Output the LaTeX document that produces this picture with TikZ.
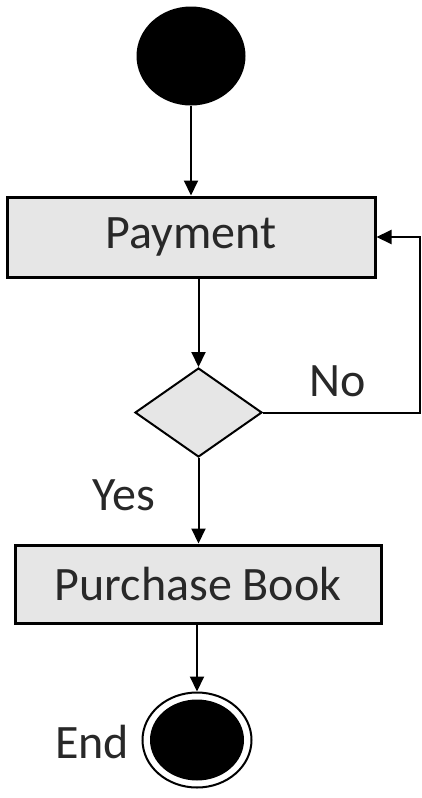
\documentclass[tikz,border=0pt]{standalone}
\usepackage{fontspec}
\setmainfont{Carlito}
\usetikzlibrary{arrows.meta,shapes.geometric}
\definecolor{boxgray}{RGB}{230,230,230}
\definecolor{txtgray}{RGB}{40,40,40}
\tikzset{
	actbox/.style={draw,line width=1.5pt,fill=boxgray,inner sep=0pt,text=txtgray,
		minimum width=184pt,minimum height=40pt,font=\fontsize{24}{28}\selectfont},
	decbox/.style={draw,line width=1pt,fill=boxgray,diamond,inner sep=0pt,
		minimum width=63.5pt,minimum height=44.5pt},
	lbl/.style={font=\fontsize{24}{28}\selectfont,inner sep=0pt,text=txtgray},
	arr/.style={line width=1pt,-{Triangle[length=7.5pt,width=7pt]}}
}
\begin{document}
\begin{tikzpicture}[x=0.5pt,y=-0.5pt]
	\useasboundingbox (0,0) rectangle (422,798);
	% Start
	\node[ellipse,fill=black,minimum width=54.5pt,minimum height=49.5pt,inner sep=0pt] (start) at (191,56) {};
	% Activities
	\node[actbox] (pay) at (191,237) {Payment};
	\node[decbox] (dia) at (198.5,412.5) {};
	\node[actbox,minimum width=183pt,minimum height=39pt] (buy) at (198,584) {Purchase Book};
	% End
	\node[ellipse,draw,line width=1pt,fill=white,minimum width=54.5pt,minimum height=47.5pt,inner sep=0pt] (stop) at (197,740) {};
	\node[ellipse,fill=black,minimum width=47pt,minimum height=40.5pt,inner sep=0pt] (stopin) at (197,740) {};
	% Labels
	\node[lbl] (no) at (338,381) {No};
	\node[lbl] (yes) at (124,495) {Yes};
	\node[lbl] (endlbl) at (92,742) {End};
	% Flow
	\draw[arr] (start) -- (pay);
	\draw[arr] (dia.north |- pay.south) -- (dia.north);
	\draw[arr] (dia.south) -- (dia.south |- buy.north);
	\draw[arr] (buy.south -| stop.north) -- (stop.north);
	\draw[arr] (dia.east) -- ++(157,0) |- (pay.east);
\end{tikzpicture}
\end{document}
